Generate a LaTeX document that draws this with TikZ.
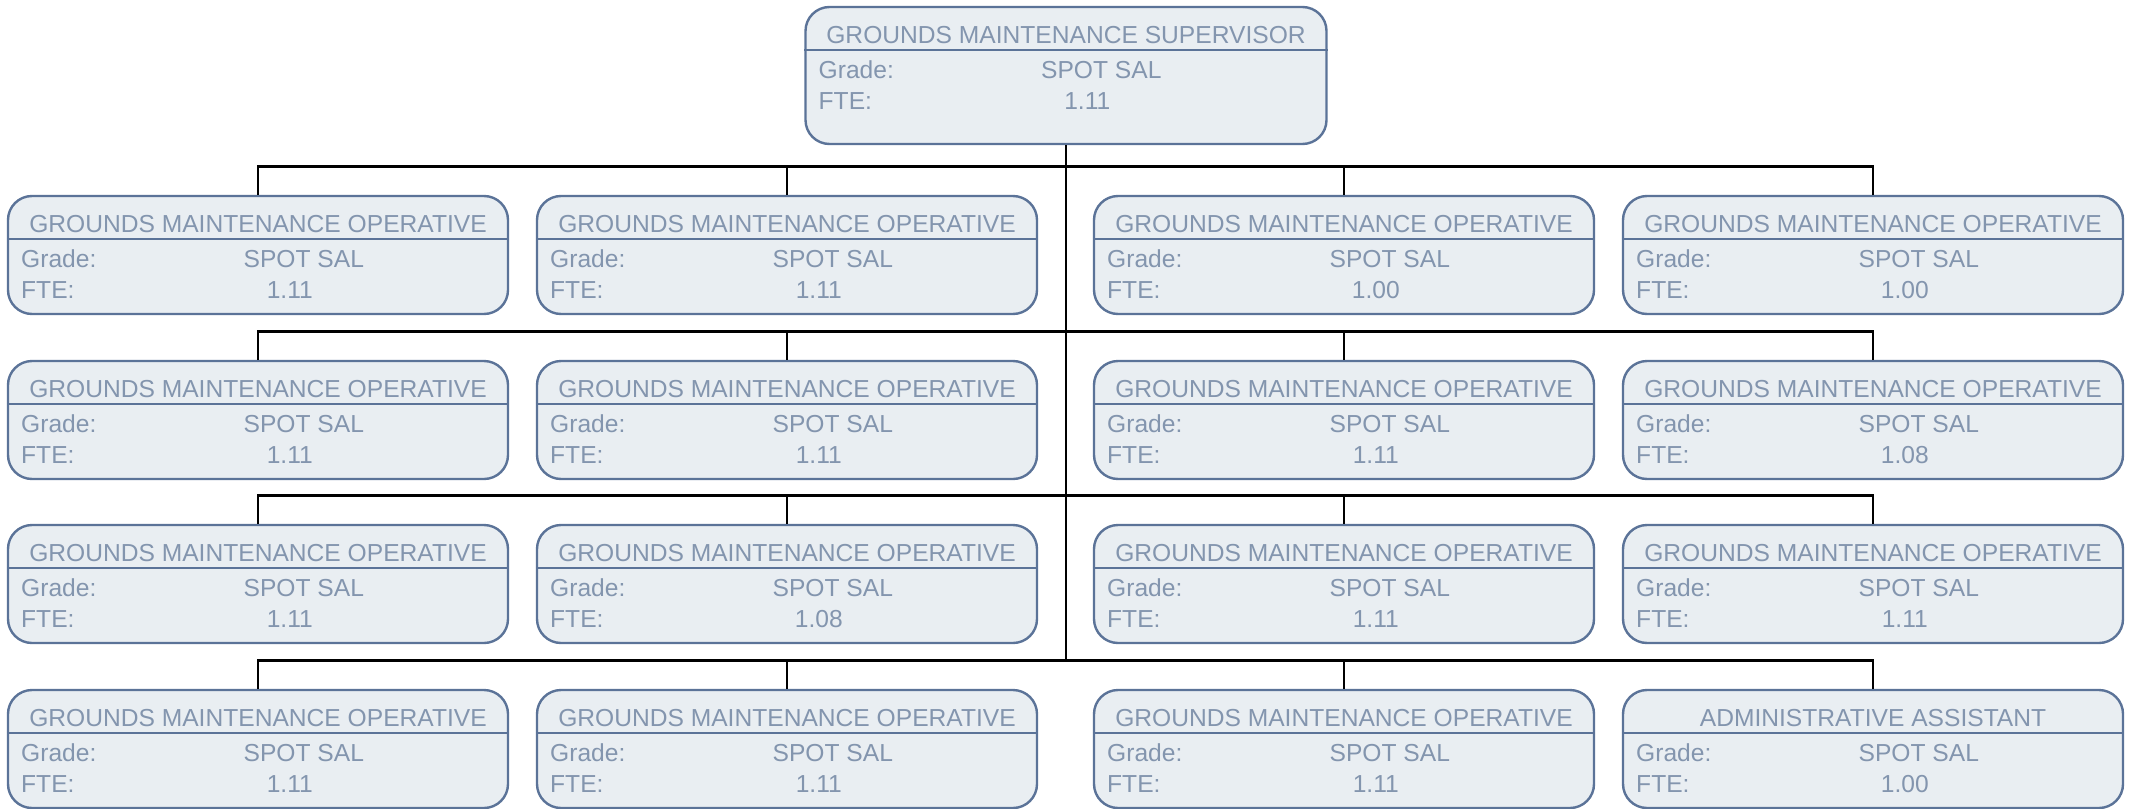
\documentclass[tikz,border=0pt]{standalone}
\usepackage{fontspec}
\setmainfont{Liberation Sans}
\usepackage{xcolor}
\usepackage{tikz}
\usetikzlibrary{positioning}

\definecolor{boxfill}{HTML}{E9EEF2}
\definecolor{boxline}{HTML}{5B7398}
\definecolor{boxtext}{HTML}{8395AE}

\tikzset{
  rolebox/.style={draw=boxline, fill=boxfill, line width=1.2pt, rounded corners=12pt, minimum width=250pt, minimum height=59pt, inner sep=0pt},
  roletext/.style={text=boxtext, font=\fontsize{12.3}{14}\selectfont, inner sep=0pt},
  link/.style={line width=1.4pt}
}

\begin{document}
\begin{tikzpicture}[x=0.5pt, y=-0.5pt]
    \useasboundingbox (0,0) rectangle (2134,808);
    % boxes
    \node[rolebox, minimum width=260.5pt, minimum height=68.5pt] (sup) at (1066,75.5) {};
    \foreach \n/\x/\y in {r1c1/258/255, r1c2/787/255, r1c3/1344/255, r1c4/1873/255,
                          r2c1/258/420, r2c2/787/420, r2c3/1344/420, r2c4/1873/420,
                          r3c1/258/584, r3c2/787/584, r3c3/1344/584, r3c4/1873/584,
                          r4c1/258/749, r4c2/787/749, r4c3/1344/749, r4c4/1873/749}
        \node[rolebox] (\n) at (\x,\y) {};
    % texts
    \foreach \n/\title/\fte in {sup/GROUNDS MAINTENANCE SUPERVISOR/1.11,
            r1c1/GROUNDS MAINTENANCE OPERATIVE/1.11, r1c2/GROUNDS MAINTENANCE OPERATIVE/1.11,
            r1c3/GROUNDS MAINTENANCE OPERATIVE/1.00, r1c4/GROUNDS MAINTENANCE OPERATIVE/1.00,
            r2c1/GROUNDS MAINTENANCE OPERATIVE/1.11, r2c2/GROUNDS MAINTENANCE OPERATIVE/1.11,
            r2c3/GROUNDS MAINTENANCE OPERATIVE/1.11, r2c4/GROUNDS MAINTENANCE OPERATIVE/1.08,
            r3c1/GROUNDS MAINTENANCE OPERATIVE/1.11, r3c2/GROUNDS MAINTENANCE OPERATIVE/1.08,
            r3c3/GROUNDS MAINTENANCE OPERATIVE/1.11, r3c4/GROUNDS MAINTENANCE OPERATIVE/1.11,
            r4c1/GROUNDS MAINTENANCE OPERATIVE/1.11, r4c2/GROUNDS MAINTENANCE OPERATIVE/1.11,
            r4c3/GROUNDS MAINTENANCE OPERATIVE/1.11, r4c4/ADMINISTRATIVE ASSISTANT/1.00} {
        \node[roletext] (\n-title) at ([yshift=-14.5pt]\n.north) {\title};
        \draw[boxline, line width=1.2pt] ([yshift=-22pt]\n.north west) -- ([yshift=-22pt]\n.north east);
        \node[roletext, anchor=west] (\n-grade) at ([xshift=7pt, yshift=-32pt]\n.north west) {Grade:};
        \node[roletext] (\n-gradeval) at ([xshift=148.5pt, yshift=-32pt]\n.north west) {SPOT SAL};
        \node[roletext, anchor=west] (\n-fte) at ([xshift=7pt, yshift=-47.7pt]\n.north west) {FTE:};
        \node[roletext] (\n-fteval) at ([xshift=141.5pt, yshift=-47.7pt]\n.north west) {\fte};
    }
    % connectors
    \foreach \row in {1,...,4} {
        \draw[link] (r\row c1.north) -- ++(0,-28) coordinate (bus\row) -| (r\row c4.north);
        \draw[link] (r\row c2.north) -- ++(0,-28);
        \draw[link] (r\row c3.north) -- ++(0,-28);
    }
    \draw[link] (sup.south) -- (sup.south |- bus4);
\end{tikzpicture}
\end{document}
